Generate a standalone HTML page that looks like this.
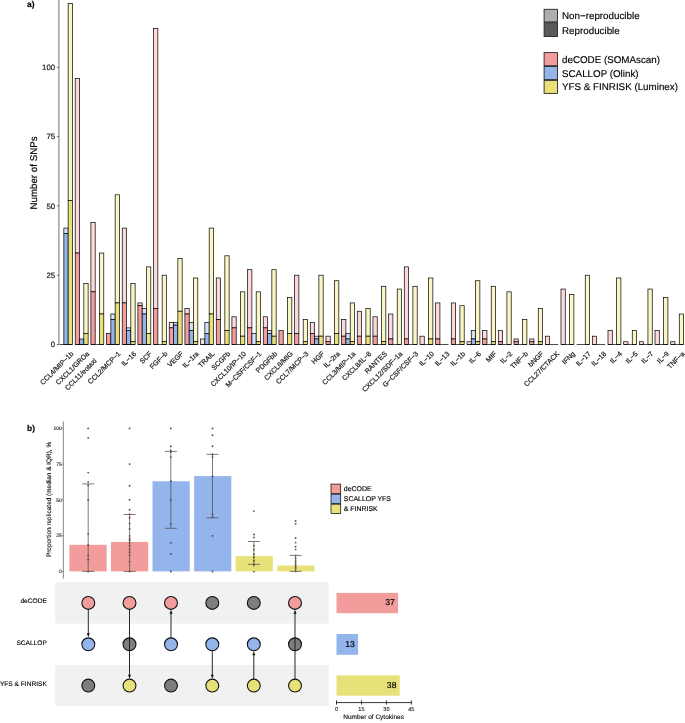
<!DOCTYPE html><html><head><meta charset="utf-8"><style>html,body{margin:0;padding:0;background:#fff;}svg{display:block;will-change:transform;}text{font-family:"Liberation Sans",sans-serif;text-rendering:geometricPrecision;}</style></head><body>
<svg width="685" height="723" viewBox="0 0 685 723">
<g stroke="#000" stroke-width="0.7">
<rect x="63.85" y="228.08" width="4.3" height="5.54" fill="#D5E2F9"/>
<rect x="63.85" y="233.62" width="4.3" height="110.88" fill="#94B4EC"/>
<rect x="68.15" y="3.54" width="4.3" height="196.81" fill="#F9F5C5"/>
<rect x="68.15" y="200.36" width="4.3" height="144.14" fill="#E8E17A"/>
<line x1="59.55" y1="344.5" x2="72.45" y2="344.5"/>
<rect x="75.22" y="78.39" width="4.3" height="174.64" fill="#FCD8D8"/>
<rect x="75.22" y="253.02" width="4.3" height="91.48" fill="#F29C9C"/>
<rect x="79.52" y="338.96" width="4.3" height="5.54" fill="#94B4EC"/>
<rect x="83.82" y="283.52" width="4.3" height="49.9" fill="#F9F5C5"/>
<rect x="83.82" y="333.41" width="4.3" height="11.09" fill="#E8E17A"/>
<line x1="75.22" y1="344.5" x2="88.12" y2="344.5"/>
<rect x="90.89" y="222.53" width="4.3" height="69.3" fill="#FCD8D8"/>
<rect x="90.89" y="291.83" width="4.3" height="52.67" fill="#F29C9C"/>
<rect x="99.49" y="253.02" width="4.3" height="60.98" fill="#F9F5C5"/>
<rect x="99.49" y="314.01" width="4.3" height="30.49" fill="#E8E17A"/>
<line x1="90.89" y1="344.5" x2="103.79" y2="344.5"/>
<rect x="106.56" y="333.41" width="4.3" height="11.09" fill="#F29C9C"/>
<rect x="110.86" y="314.01" width="4.3" height="5.54" fill="#D5E2F9"/>
<rect x="110.86" y="319.55" width="4.3" height="24.95" fill="#94B4EC"/>
<rect x="115.16" y="194.81" width="4.3" height="108.11" fill="#F9F5C5"/>
<rect x="115.16" y="302.92" width="4.3" height="41.58" fill="#E8E17A"/>
<line x1="106.56" y1="344.5" x2="119.46" y2="344.5"/>
<rect x="122.23" y="228.08" width="4.3" height="74.84" fill="#FCD8D8"/>
<rect x="122.23" y="302.92" width="4.3" height="41.58" fill="#F29C9C"/>
<rect x="126.53" y="327.87" width="4.3" height="2.77" fill="#D5E2F9"/>
<rect x="126.53" y="330.64" width="4.3" height="13.86" fill="#94B4EC"/>
<rect x="130.83" y="283.52" width="4.3" height="58.21" fill="#F9F5C5"/>
<rect x="130.83" y="341.73" width="4.3" height="2.77" fill="#E8E17A"/>
<line x1="122.23" y1="344.5" x2="135.13" y2="344.5"/>
<rect x="137.9" y="302.92" width="4.3" height="2.77" fill="#FCD8D8"/>
<rect x="137.9" y="305.69" width="4.3" height="38.81" fill="#F29C9C"/>
<rect x="142.2" y="308.46" width="4.3" height="5.54" fill="#D5E2F9"/>
<rect x="142.2" y="314.01" width="4.3" height="30.49" fill="#94B4EC"/>
<rect x="146.5" y="266.88" width="4.3" height="66.53" fill="#F9F5C5"/>
<rect x="146.5" y="333.41" width="4.3" height="11.09" fill="#E8E17A"/>
<line x1="137.9" y1="344.5" x2="150.8" y2="344.5"/>
<rect x="153.57" y="28.49" width="4.3" height="279.97" fill="#FCD8D8"/>
<rect x="153.57" y="308.46" width="4.3" height="36.04" fill="#F29C9C"/>
<rect x="162.17" y="275.2" width="4.3" height="66.53" fill="#F9F5C5"/>
<rect x="162.17" y="341.73" width="4.3" height="2.77" fill="#E8E17A"/>
<line x1="153.57" y1="344.5" x2="166.47" y2="344.5"/>
<rect x="169.24" y="322.32" width="4.3" height="5.54" fill="#FCD8D8"/>
<rect x="169.24" y="327.87" width="4.3" height="16.63" fill="#F29C9C"/>
<rect x="173.54" y="322.32" width="4.3" height="2.77" fill="#D5E2F9"/>
<rect x="173.54" y="325.1" width="4.3" height="19.4" fill="#94B4EC"/>
<rect x="177.84" y="258.57" width="4.3" height="52.67" fill="#F9F5C5"/>
<rect x="177.84" y="311.24" width="4.3" height="33.26" fill="#E8E17A"/>
<line x1="169.24" y1="344.5" x2="182.14" y2="344.5"/>
<rect x="184.91" y="308.46" width="4.3" height="5.54" fill="#FCD8D8"/>
<rect x="184.91" y="314.01" width="4.3" height="30.49" fill="#F29C9C"/>
<rect x="189.21" y="322.32" width="4.3" height="8.32" fill="#D5E2F9"/>
<rect x="189.21" y="330.64" width="4.3" height="13.86" fill="#94B4EC"/>
<rect x="193.51" y="277.97" width="4.3" height="63.76" fill="#F9F5C5"/>
<rect x="193.51" y="341.73" width="4.3" height="2.77" fill="#E8E17A"/>
<line x1="184.91" y1="344.5" x2="197.81" y2="344.5"/>
<rect x="200.58" y="338.96" width="4.3" height="5.54" fill="#FCD8D8"/>
<rect x="204.88" y="322.32" width="4.3" height="11.09" fill="#D5E2F9"/>
<rect x="204.88" y="333.41" width="4.3" height="11.09" fill="#94B4EC"/>
<rect x="209.18" y="228.08" width="4.3" height="85.93" fill="#F9F5C5"/>
<rect x="209.18" y="314.01" width="4.3" height="30.49" fill="#E8E17A"/>
<line x1="200.58" y1="344.5" x2="213.48" y2="344.5"/>
<rect x="216.25" y="277.97" width="4.3" height="41.58" fill="#FCD8D8"/>
<rect x="216.25" y="319.55" width="4.3" height="24.95" fill="#F29C9C"/>
<rect x="224.85" y="255.8" width="4.3" height="74.84" fill="#F9F5C5"/>
<rect x="224.85" y="330.64" width="4.3" height="13.86" fill="#E8E17A"/>
<line x1="216.25" y1="344.5" x2="229.15" y2="344.5"/>
<rect x="231.92" y="316.78" width="4.3" height="11.09" fill="#FCD8D8"/>
<rect x="231.92" y="327.87" width="4.3" height="16.63" fill="#F29C9C"/>
<rect x="240.52" y="291.83" width="4.3" height="44.35" fill="#F9F5C5"/>
<rect x="240.52" y="336.18" width="4.3" height="8.32" fill="#E8E17A"/>
<line x1="231.92" y1="344.5" x2="244.82" y2="344.5"/>
<rect x="247.59" y="269.66" width="4.3" height="58.21" fill="#FCD8D8"/>
<rect x="247.59" y="327.87" width="4.3" height="16.63" fill="#F29C9C"/>
<rect x="251.89" y="333.41" width="4.3" height="11.09" fill="#D5E2F9"/>
<rect x="256.19" y="291.83" width="4.3" height="49.9" fill="#F9F5C5"/>
<rect x="256.19" y="341.73" width="4.3" height="2.77" fill="#E8E17A"/>
<line x1="247.59" y1="344.5" x2="260.49" y2="344.5"/>
<rect x="263.26" y="316.78" width="4.3" height="11.09" fill="#FCD8D8"/>
<rect x="263.26" y="327.87" width="4.3" height="16.63" fill="#F29C9C"/>
<rect x="267.56" y="330.64" width="4.3" height="2.77" fill="#D5E2F9"/>
<rect x="267.56" y="333.41" width="4.3" height="11.09" fill="#94B4EC"/>
<rect x="271.86" y="269.66" width="4.3" height="66.53" fill="#F9F5C5"/>
<rect x="271.86" y="336.18" width="4.3" height="8.32" fill="#E8E17A"/>
<line x1="263.26" y1="344.5" x2="276.16" y2="344.5"/>
<rect x="278.93" y="330.64" width="4.3" height="13.86" fill="#F29C9C"/>
<rect x="287.53" y="297.38" width="4.3" height="36.04" fill="#F9F5C5"/>
<rect x="287.53" y="333.41" width="4.3" height="11.09" fill="#E8E17A"/>
<line x1="278.93" y1="344.5" x2="291.83" y2="344.5"/>
<rect x="294.6" y="275.2" width="4.3" height="58.21" fill="#FCD8D8"/>
<rect x="294.6" y="333.41" width="4.3" height="11.09" fill="#F29C9C"/>
<rect x="303.2" y="319.55" width="4.3" height="22.18" fill="#F9F5C5"/>
<rect x="303.2" y="341.73" width="4.3" height="2.77" fill="#E8E17A"/>
<line x1="294.6" y1="344.5" x2="307.5" y2="344.5"/>
<rect x="310.27" y="322.32" width="4.3" height="11.09" fill="#FCD8D8"/>
<rect x="310.27" y="333.41" width="4.3" height="11.09" fill="#F29C9C"/>
<rect x="314.57" y="336.18" width="4.3" height="2.77" fill="#D5E2F9"/>
<rect x="314.57" y="338.96" width="4.3" height="5.54" fill="#94B4EC"/>
<rect x="318.87" y="275.2" width="4.3" height="60.98" fill="#F9F5C5"/>
<rect x="318.87" y="336.18" width="4.3" height="8.32" fill="#E8E17A"/>
<line x1="310.27" y1="344.5" x2="323.17" y2="344.5"/>
<rect x="325.94" y="336.18" width="4.3" height="5.54" fill="#FCD8D8"/>
<rect x="325.94" y="341.73" width="4.3" height="2.77" fill="#F29C9C"/>
<rect x="334.54" y="280.74" width="4.3" height="52.67" fill="#F9F5C5"/>
<rect x="334.54" y="333.41" width="4.3" height="11.09" fill="#E8E17A"/>
<line x1="325.94" y1="344.5" x2="338.84" y2="344.5"/>
<rect x="341.61" y="319.55" width="4.3" height="16.63" fill="#FCD8D8"/>
<rect x="341.61" y="336.18" width="4.3" height="8.32" fill="#F29C9C"/>
<rect x="345.91" y="333.41" width="4.3" height="5.54" fill="#D5E2F9"/>
<rect x="345.91" y="338.96" width="4.3" height="5.54" fill="#94B4EC"/>
<rect x="350.21" y="302.92" width="4.3" height="38.81" fill="#F9F5C5"/>
<rect x="350.21" y="341.73" width="4.3" height="2.77" fill="#E8E17A"/>
<line x1="341.61" y1="344.5" x2="354.51" y2="344.5"/>
<rect x="357.28" y="311.24" width="4.3" height="24.95" fill="#FCD8D8"/>
<rect x="357.28" y="336.18" width="4.3" height="8.32" fill="#F29C9C"/>
<rect x="365.88" y="308.46" width="4.3" height="27.72" fill="#F9F5C5"/>
<rect x="365.88" y="336.18" width="4.3" height="8.32" fill="#E8E17A"/>
<line x1="357.28" y1="344.5" x2="370.18" y2="344.5"/>
<rect x="372.95" y="316.78" width="4.3" height="19.4" fill="#FCD8D8"/>
<rect x="372.95" y="336.18" width="4.3" height="8.32" fill="#F29C9C"/>
<rect x="381.55" y="286.29" width="4.3" height="55.44" fill="#F9F5C5"/>
<rect x="381.55" y="341.73" width="4.3" height="2.77" fill="#E8E17A"/>
<line x1="372.95" y1="344.5" x2="385.85" y2="344.5"/>
<rect x="388.62" y="314.01" width="4.3" height="24.95" fill="#FCD8D8"/>
<rect x="388.62" y="338.96" width="4.3" height="5.54" fill="#F29C9C"/>
<rect x="397.22" y="289.06" width="4.3" height="55.44" fill="#F9F5C5"/>
<line x1="388.62" y1="344.5" x2="401.52" y2="344.5"/>
<rect x="404.29" y="266.88" width="4.3" height="72.07" fill="#FCD8D8"/>
<rect x="404.29" y="338.96" width="4.3" height="5.54" fill="#F29C9C"/>
<rect x="412.89" y="286.29" width="4.3" height="58.21" fill="#F9F5C5"/>
<line x1="404.29" y1="344.5" x2="417.19" y2="344.5"/>
<rect x="419.96" y="336.18" width="4.3" height="8.32" fill="#FCD8D8"/>
<rect x="428.56" y="277.97" width="4.3" height="60.98" fill="#F9F5C5"/>
<rect x="428.56" y="338.96" width="4.3" height="5.54" fill="#E8E17A"/>
<line x1="419.96" y1="344.5" x2="432.86" y2="344.5"/>
<rect x="435.63" y="302.92" width="4.3" height="36.04" fill="#FCD8D8"/>
<rect x="435.63" y="338.96" width="4.3" height="5.54" fill="#F29C9C"/>
<line x1="435.63" y1="344.5" x2="448.53" y2="344.5"/>
<rect x="451.3" y="302.92" width="4.3" height="36.04" fill="#FCD8D8"/>
<rect x="451.3" y="338.96" width="4.3" height="5.54" fill="#F29C9C"/>
<rect x="459.9" y="305.69" width="4.3" height="36.04" fill="#F9F5C5"/>
<rect x="459.9" y="341.73" width="4.3" height="2.77" fill="#E8E17A"/>
<line x1="451.3" y1="344.5" x2="464.2" y2="344.5"/>
<rect x="466.97" y="341.73" width="4.3" height="2.77" fill="#FCD8D8"/>
<rect x="471.27" y="330.64" width="4.3" height="8.32" fill="#D5E2F9"/>
<rect x="471.27" y="338.96" width="4.3" height="5.54" fill="#94B4EC"/>
<rect x="475.57" y="280.74" width="4.3" height="60.98" fill="#F9F5C5"/>
<rect x="475.57" y="341.73" width="4.3" height="2.77" fill="#E8E17A"/>
<line x1="466.97" y1="344.5" x2="479.87" y2="344.5"/>
<rect x="482.64" y="330.64" width="4.3" height="8.32" fill="#FCD8D8"/>
<rect x="482.64" y="338.96" width="4.3" height="5.54" fill="#F29C9C"/>
<rect x="491.24" y="286.29" width="4.3" height="55.44" fill="#F9F5C5"/>
<rect x="491.24" y="341.73" width="4.3" height="2.77" fill="#E8E17A"/>
<line x1="482.64" y1="344.5" x2="495.54" y2="344.5"/>
<rect x="498.31" y="330.64" width="4.3" height="11.09" fill="#FCD8D8"/>
<rect x="498.31" y="341.73" width="4.3" height="2.77" fill="#F29C9C"/>
<rect x="506.91" y="291.83" width="4.3" height="52.67" fill="#F9F5C5"/>
<line x1="498.31" y1="344.5" x2="511.21" y2="344.5"/>
<rect x="513.98" y="338.96" width="4.3" height="2.77" fill="#FCD8D8"/>
<rect x="513.98" y="341.73" width="4.3" height="2.77" fill="#F29C9C"/>
<rect x="522.58" y="319.55" width="4.3" height="24.95" fill="#F9F5C5"/>
<line x1="513.98" y1="344.5" x2="526.88" y2="344.5"/>
<rect x="529.65" y="338.96" width="4.3" height="2.77" fill="#FCD8D8"/>
<rect x="529.65" y="341.73" width="4.3" height="2.77" fill="#F29C9C"/>
<rect x="538.25" y="308.46" width="4.3" height="33.26" fill="#F9F5C5"/>
<rect x="538.25" y="341.73" width="4.3" height="2.77" fill="#E8E17A"/>
<line x1="529.65" y1="344.5" x2="542.55" y2="344.5"/>
<rect x="545.32" y="336.18" width="4.3" height="8.32" fill="#FCD8D8"/>
<line x1="545.32" y1="344.5" x2="558.22" y2="344.5"/>
<rect x="560.99" y="289.06" width="4.3" height="55.44" fill="#FCD8D8"/>
<rect x="569.59" y="294.6" width="4.3" height="49.9" fill="#F9F5C5"/>
<line x1="560.99" y1="344.5" x2="573.89" y2="344.5"/>
<rect x="585.26" y="275.2" width="4.3" height="69.3" fill="#F9F5C5"/>
<line x1="576.66" y1="344.5" x2="589.56" y2="344.5"/>
<rect x="592.33" y="336.18" width="4.3" height="8.32" fill="#FCD8D8"/>
<line x1="592.33" y1="344.5" x2="605.23" y2="344.5"/>
<rect x="608" y="330.64" width="4.3" height="13.86" fill="#FCD8D8"/>
<rect x="616.6" y="277.97" width="4.3" height="66.53" fill="#F9F5C5"/>
<line x1="608" y1="344.5" x2="620.9" y2="344.5"/>
<rect x="623.67" y="341.73" width="4.3" height="2.77" fill="#FCD8D8"/>
<rect x="632.27" y="330.64" width="4.3" height="13.86" fill="#F9F5C5"/>
<line x1="623.67" y1="344.5" x2="636.57" y2="344.5"/>
<rect x="639.34" y="341.73" width="4.3" height="2.77" fill="#FCD8D8"/>
<rect x="647.94" y="289.06" width="4.3" height="55.44" fill="#F9F5C5"/>
<line x1="639.34" y1="344.5" x2="652.24" y2="344.5"/>
<rect x="655.01" y="330.64" width="4.3" height="13.86" fill="#FCD8D8"/>
<rect x="663.61" y="297.38" width="4.3" height="47.12" fill="#F9F5C5"/>
<line x1="655.01" y1="344.5" x2="667.91" y2="344.5"/>
<rect x="670.68" y="341.73" width="4.3" height="2.77" fill="#FCD8D8"/>
<rect x="679.28" y="314.01" width="4.3" height="30.49" fill="#F9F5C5"/>
<line x1="670.68" y1="344.5" x2="683.58" y2="344.5"/>
</g>
<line x1="58.9" y1="0" x2="58.9" y2="345" stroke="#999" stroke-width="1.4"/>
<line x1="56.9" y1="344.5" x2="58.9" y2="344.5" stroke="#333" stroke-width="0.7"/>
<text x="55.1" y="347.3" font-size="7.8" text-anchor="end" fill="#222" stroke="#222" stroke-width="0.2">0</text>
<line x1="56.9" y1="275.2" x2="58.9" y2="275.2" stroke="#333" stroke-width="0.7"/>
<text x="55.1" y="278" font-size="7.8" text-anchor="end" fill="#222" stroke="#222" stroke-width="0.2">25</text>
<line x1="56.9" y1="205.9" x2="58.9" y2="205.9" stroke="#333" stroke-width="0.7"/>
<text x="55.1" y="208.7" font-size="7.8" text-anchor="end" fill="#222" stroke="#222" stroke-width="0.2">50</text>
<line x1="56.9" y1="136.6" x2="58.9" y2="136.6" stroke="#333" stroke-width="0.7"/>
<text x="55.1" y="139.4" font-size="7.8" text-anchor="end" fill="#222" stroke="#222" stroke-width="0.2">75</text>
<line x1="56.9" y1="67.3" x2="58.9" y2="67.3" stroke="#333" stroke-width="0.7"/>
<text x="55.1" y="70.1" font-size="7.8" text-anchor="end" fill="#222" stroke="#222" stroke-width="0.2">100</text>
<text transform="translate(36.6,173) rotate(-90)" font-size="9.75" text-anchor="middle" fill="#000" stroke="#000" stroke-width="0.2">Number of SNPs</text>
<text x="27" y="6.5" font-size="8.4" font-weight="bold" stroke="#000" stroke-width="0.2">a)</text>
<text transform="translate(74,354.2) rotate(-45)" font-size="6.95" text-anchor="end" fill="#222" stroke="#222" stroke-width="0.22">CCL4/MIP−1b</text>
<text transform="translate(89.67,354.2) rotate(-45)" font-size="6.95" text-anchor="end" fill="#222" stroke="#222" stroke-width="0.22">CXCL1/GROa</text>
<text transform="translate(97.14,361.3) rotate(-45)" font-size="6.95" text-anchor="end" fill="#222" stroke="#222" stroke-width="0.22">CCL11/eotaxi</text>
<text transform="translate(121.01,354.2) rotate(-45)" font-size="6.95" text-anchor="end" fill="#222" stroke="#222" stroke-width="0.22">CCL2/MCP−1</text>
<text transform="translate(136.68,354.2) rotate(-45)" font-size="6.95" text-anchor="end" fill="#222" stroke="#222" stroke-width="0.22">IL−16</text>
<text transform="translate(152.35,354.2) rotate(-45)" font-size="6.95" text-anchor="end" fill="#222" stroke="#222" stroke-width="0.22">SCF</text>
<text transform="translate(168.02,354.2) rotate(-45)" font-size="6.95" text-anchor="end" fill="#222" stroke="#222" stroke-width="0.22">FGF−b</text>
<text transform="translate(183.69,354.2) rotate(-45)" font-size="6.95" text-anchor="end" fill="#222" stroke="#222" stroke-width="0.22">VEGF</text>
<text transform="translate(199.36,354.2) rotate(-45)" font-size="6.95" text-anchor="end" fill="#222" stroke="#222" stroke-width="0.22">IL−1ra</text>
<text transform="translate(215.03,354.2) rotate(-45)" font-size="6.95" text-anchor="end" fill="#222" stroke="#222" stroke-width="0.22">TRAIL</text>
<text transform="translate(230.7,354.2) rotate(-45)" font-size="6.95" text-anchor="end" fill="#222" stroke="#222" stroke-width="0.22">SCGFb</text>
<text transform="translate(246.37,354.2) rotate(-45)" font-size="6.95" text-anchor="end" fill="#222" stroke="#222" stroke-width="0.22">CXCL10/IP−10</text>
<text transform="translate(262.04,354.2) rotate(-45)" font-size="6.95" text-anchor="end" fill="#222" stroke="#222" stroke-width="0.22">M−CSF/CSF−1</text>
<text transform="translate(277.71,354.2) rotate(-45)" font-size="6.95" text-anchor="end" fill="#222" stroke="#222" stroke-width="0.22">PDGFbb</text>
<text transform="translate(293.38,354.2) rotate(-45)" font-size="6.95" text-anchor="end" fill="#222" stroke="#222" stroke-width="0.22">CXCL9/MIG</text>
<text transform="translate(309.05,354.2) rotate(-45)" font-size="6.95" text-anchor="end" fill="#222" stroke="#222" stroke-width="0.22">CCL7/MCP−3</text>
<text transform="translate(324.72,354.2) rotate(-45)" font-size="6.95" text-anchor="end" fill="#222" stroke="#222" stroke-width="0.22">HGF</text>
<text transform="translate(340.39,354.2) rotate(-45)" font-size="6.95" text-anchor="end" fill="#222" stroke="#222" stroke-width="0.22">IL−2ra</text>
<text transform="translate(356.06,354.2) rotate(-45)" font-size="6.95" text-anchor="end" fill="#222" stroke="#222" stroke-width="0.22">CCL3/MIP−1a</text>
<text transform="translate(371.73,354.2) rotate(-45)" font-size="6.95" text-anchor="end" fill="#222" stroke="#222" stroke-width="0.22">CXCL8/IL−8</text>
<text transform="translate(387.4,354.2) rotate(-45)" font-size="6.95" text-anchor="end" fill="#222" stroke="#222" stroke-width="0.22">RANTES</text>
<text transform="translate(403.07,354.2) rotate(-45)" font-size="6.95" text-anchor="end" fill="#222" stroke="#222" stroke-width="0.22">CXCL12/SDF−1a</text>
<text transform="translate(418.74,354.2) rotate(-45)" font-size="6.95" text-anchor="end" fill="#222" stroke="#222" stroke-width="0.22">G−CSF/CSF−3</text>
<text transform="translate(434.41,354.2) rotate(-45)" font-size="6.95" text-anchor="end" fill="#222" stroke="#222" stroke-width="0.22">IL−10</text>
<text transform="translate(450.08,354.2) rotate(-45)" font-size="6.95" text-anchor="end" fill="#222" stroke="#222" stroke-width="0.22">IL−13</text>
<text transform="translate(465.75,354.2) rotate(-45)" font-size="6.95" text-anchor="end" fill="#222" stroke="#222" stroke-width="0.22">IL−1b</text>
<text transform="translate(481.42,354.2) rotate(-45)" font-size="6.95" text-anchor="end" fill="#222" stroke="#222" stroke-width="0.22">IL−6</text>
<text transform="translate(497.09,354.2) rotate(-45)" font-size="6.95" text-anchor="end" fill="#222" stroke="#222" stroke-width="0.22">MIF</text>
<text transform="translate(512.76,354.2) rotate(-45)" font-size="6.95" text-anchor="end" fill="#222" stroke="#222" stroke-width="0.22">IL−2</text>
<text transform="translate(528.43,354.2) rotate(-45)" font-size="6.95" text-anchor="end" fill="#222" stroke="#222" stroke-width="0.22">TNF−b</text>
<text transform="translate(544.1,354.2) rotate(-45)" font-size="6.95" text-anchor="end" fill="#222" stroke="#222" stroke-width="0.22">bNGF</text>
<text transform="translate(559.77,354.2) rotate(-45)" font-size="6.95" text-anchor="end" fill="#222" stroke="#222" stroke-width="0.22">CCL27/CTACK</text>
<text transform="translate(575.44,354.2) rotate(-45)" font-size="6.95" text-anchor="end" fill="#222" stroke="#222" stroke-width="0.22">IFNg</text>
<text transform="translate(591.11,354.2) rotate(-45)" font-size="6.95" text-anchor="end" fill="#222" stroke="#222" stroke-width="0.22">IL−17</text>
<text transform="translate(606.78,354.2) rotate(-45)" font-size="6.95" text-anchor="end" fill="#222" stroke="#222" stroke-width="0.22">IL−18</text>
<text transform="translate(622.45,354.2) rotate(-45)" font-size="6.95" text-anchor="end" fill="#222" stroke="#222" stroke-width="0.22">IL−4</text>
<text transform="translate(638.12,354.2) rotate(-45)" font-size="6.95" text-anchor="end" fill="#222" stroke="#222" stroke-width="0.22">IL−5</text>
<text transform="translate(653.79,354.2) rotate(-45)" font-size="6.95" text-anchor="end" fill="#222" stroke="#222" stroke-width="0.22">IL−7</text>
<text transform="translate(669.46,354.2) rotate(-45)" font-size="6.95" text-anchor="end" fill="#222" stroke="#222" stroke-width="0.22">IL−9</text>
<text transform="translate(685.13,354.2) rotate(-45)" font-size="6.95" text-anchor="end" fill="#222" stroke="#222" stroke-width="0.22">TNF−a</text>
<rect x="544.1" y="9.3" width="13.4" height="12.6" fill="#AEAEAE" stroke="#262626" stroke-width="0.9"/>
<rect x="544.1" y="22.7" width="13.4" height="13.8" fill="#5A5A5A" stroke="#262626" stroke-width="0.9"/>
<rect x="544.1" y="52.6" width="13.4" height="13.1" fill="#F29C9C" stroke="#262626" stroke-width="0.9"/>
<rect x="544.1" y="66.5" width="13.4" height="13.1" fill="#94B4EC" stroke="#262626" stroke-width="0.9"/>
<rect x="544.1" y="80.4" width="13.4" height="13" fill="#E8E17A" stroke="#262626" stroke-width="0.9"/>
<text x="562" y="19.4" font-size="9.8" fill="#000" stroke="#000" stroke-width="0.15">Non−reproducible</text>
<text x="562" y="33.6" font-size="9.8" fill="#000" stroke="#000" stroke-width="0.15">Reproducible</text>
<text x="562" y="62.8" font-size="9.8" fill="#000" stroke="#000" stroke-width="0.15">deCODE (SOMAscan)</text>
<text x="562" y="76.6" font-size="9.8" fill="#000" stroke="#000" stroke-width="0.15">SCALLOP (Olink)</text>
<text x="562" y="90.3" font-size="9.8" fill="#000" stroke="#000" stroke-width="0.15">YFS &amp; FINRISK (Luminex)</text>
<text x="27.1" y="430.6" font-size="8.4" font-weight="bold" stroke="#000" stroke-width="0.2">b)</text>
<rect x="69.4" y="544.78" width="37.2" height="26.62" fill="#F29C9C"/>
<rect x="110.97" y="541.92" width="37.2" height="29.48" fill="#F29C9C"/>
<rect x="152.54" y="481.25" width="37.2" height="90.15" fill="#94B4EC"/>
<rect x="194.11" y="476.1" width="37.2" height="95.3" fill="#94B4EC"/>
<rect x="235.68" y="556.09" width="37.2" height="15.31" fill="#E8E17A"/>
<rect x="277.25" y="565.53" width="37.2" height="5.87" fill="#E8E17A"/>
<line x1="63.4" y1="421.6" x2="63.4" y2="578.5" stroke="#999" stroke-width="1.2"/>
<line x1="61.9" y1="571.4" x2="63.4" y2="571.4" stroke="#555" stroke-width="0.5"/>
<text x="61.8" y="573.2" font-size="5.0" text-anchor="end" fill="#222" stroke="#222" stroke-width="0.12">0</text>
<line x1="61.9" y1="535.62" x2="63.4" y2="535.62" stroke="#555" stroke-width="0.5"/>
<text x="61.8" y="537.42" font-size="5.0" text-anchor="end" fill="#222" stroke="#222" stroke-width="0.12">25</text>
<line x1="61.9" y1="499.85" x2="63.4" y2="499.85" stroke="#555" stroke-width="0.5"/>
<text x="61.8" y="501.65" font-size="5.0" text-anchor="end" fill="#222" stroke="#222" stroke-width="0.12">50</text>
<line x1="61.9" y1="464.07" x2="63.4" y2="464.07" stroke="#555" stroke-width="0.5"/>
<text x="61.8" y="465.88" font-size="5.0" text-anchor="end" fill="#222" stroke="#222" stroke-width="0.12">75</text>
<line x1="61.9" y1="428.3" x2="63.4" y2="428.3" stroke="#555" stroke-width="0.5"/>
<text x="61.8" y="430.1" font-size="5.0" text-anchor="end" fill="#222" stroke="#222" stroke-width="0.12">100</text>
<text transform="translate(50.8,499.5) rotate(-90)" font-size="6.45" text-anchor="middle" fill="#000" stroke="#000" stroke-width="0.12">Proportion replicated (median &amp; IQR), %</text>
<g stroke="#505050" stroke-width="0.75">
<line x1="88.2" y1="483.9" x2="88.2" y2="571.4"/>
<line x1="82.2" y1="483.9" x2="94.2" y2="483.9"/>
<line x1="82.2" y1="571.4" x2="94.2" y2="571.4"/>
<line x1="129.6" y1="514.5" x2="129.6" y2="571.4"/>
<line x1="123.6" y1="514.5" x2="135.6" y2="514.5"/>
<line x1="123.6" y1="571.4" x2="135.6" y2="571.4"/>
<line x1="170.8" y1="451.4" x2="170.8" y2="528.3"/>
<line x1="164.8" y1="451.4" x2="176.8" y2="451.4"/>
<line x1="164.8" y1="528.3" x2="176.8" y2="528.3"/>
<line x1="212.5" y1="454.3" x2="212.5" y2="517.8"/>
<line x1="206.5" y1="454.3" x2="218.5" y2="454.3"/>
<line x1="206.5" y1="517.8" x2="218.5" y2="517.8"/>
<line x1="253.9" y1="541.5" x2="253.9" y2="564.3"/>
<line x1="247.9" y1="541.5" x2="259.9" y2="541.5"/>
<line x1="247.9" y1="564.3" x2="259.9" y2="564.3"/>
<line x1="295.6" y1="555.4" x2="295.6" y2="571.4"/>
<line x1="289.6" y1="555.4" x2="301.6" y2="555.4"/>
<line x1="289.6" y1="571.4" x2="301.6" y2="571.4"/>
</g>
<circle cx="88.2" cy="428.4" r="0.95" fill="#7a4545"/>
<circle cx="88.2" cy="437.9" r="0.95" fill="#7a4545"/>
<circle cx="88.2" cy="472.6" r="0.95" fill="#7a4545"/>
<circle cx="88.2" cy="481.9" r="0.95" fill="#7a4545"/>
<circle cx="88.2" cy="485.4" r="0.95" fill="#7a4545"/>
<circle cx="88.2" cy="499.7" r="0.95" fill="#7a4545"/>
<circle cx="88.2" cy="534.1" r="0.95" fill="#7a4545"/>
<circle cx="88.2" cy="545" r="0.95" fill="#7a4545"/>
<circle cx="88.2" cy="555.7" r="0.95" fill="#7a4545"/>
<circle cx="88.2" cy="559.8" r="0.95" fill="#7a4545"/>
<circle cx="88.2" cy="571.5" r="0.95" fill="#7a4545"/>
<circle cx="129.6" cy="428.4" r="0.95" fill="#7a4545"/>
<circle cx="129.6" cy="464.1" r="0.95" fill="#7a4545"/>
<circle cx="129.6" cy="485.8" r="0.95" fill="#7a4545"/>
<circle cx="129.6" cy="499.7" r="0.95" fill="#7a4545"/>
<circle cx="129.6" cy="509.8" r="0.95" fill="#7a4545"/>
<circle cx="129.6" cy="514.3" r="0.95" fill="#7a4545"/>
<circle cx="129.6" cy="517.8" r="0.95" fill="#7a4545"/>
<circle cx="129.6" cy="523.6" r="0.95" fill="#7a4545"/>
<circle cx="129.6" cy="528.9" r="0.95" fill="#7a4545"/>
<circle cx="129.6" cy="535.9" r="0.95" fill="#7a4545"/>
<circle cx="129.6" cy="538.8" r="0.95" fill="#7a4545"/>
<circle cx="129.6" cy="540.5" r="0.95" fill="#7a4545"/>
<circle cx="129.6" cy="542.9" r="0.95" fill="#7a4545"/>
<circle cx="129.6" cy="545.8" r="0.95" fill="#7a4545"/>
<circle cx="129.6" cy="549.3" r="0.95" fill="#7a4545"/>
<circle cx="129.6" cy="552.2" r="0.95" fill="#7a4545"/>
<circle cx="129.6" cy="555.1" r="0.95" fill="#7a4545"/>
<circle cx="129.6" cy="561.6" r="0.95" fill="#7a4545"/>
<circle cx="129.6" cy="571.5" r="0.95" fill="#7a4545"/>
<circle cx="170.8" cy="428.4" r="0.95" fill="#40506e"/>
<circle cx="170.8" cy="446.3" r="0.95" fill="#40506e"/>
<circle cx="170.8" cy="450.4" r="0.95" fill="#40506e"/>
<circle cx="170.8" cy="452.1" r="0.95" fill="#40506e"/>
<circle cx="170.8" cy="457.1" r="0.95" fill="#40506e"/>
<circle cx="170.8" cy="481.3" r="0.95" fill="#40506e"/>
<circle cx="170.8" cy="499.7" r="0.95" fill="#40506e"/>
<circle cx="170.8" cy="524" r="0.95" fill="#40506e"/>
<circle cx="170.8" cy="542.9" r="0.95" fill="#40506e"/>
<circle cx="170.8" cy="554" r="0.95" fill="#40506e"/>
<circle cx="170.8" cy="571.5" r="0.95" fill="#40506e"/>
<circle cx="212.5" cy="428.4" r="0.95" fill="#40506e"/>
<circle cx="212.5" cy="435.2" r="0.95" fill="#40506e"/>
<circle cx="212.5" cy="446.3" r="0.95" fill="#40506e"/>
<circle cx="212.5" cy="454.5" r="0.95" fill="#40506e"/>
<circle cx="212.5" cy="457.1" r="0.95" fill="#40506e"/>
<circle cx="212.5" cy="476.3" r="0.95" fill="#40506e"/>
<circle cx="212.5" cy="514.3" r="0.95" fill="#40506e"/>
<circle cx="212.5" cy="517.2" r="0.95" fill="#40506e"/>
<circle cx="212.5" cy="535.9" r="0.95" fill="#40506e"/>
<circle cx="212.5" cy="571.5" r="0.95" fill="#40506e"/>
<circle cx="253.9" cy="511.1" r="0.95" fill="#5e5e30"/>
<circle cx="253.9" cy="534.5" r="0.95" fill="#5e5e30"/>
<circle cx="253.9" cy="537.4" r="0.95" fill="#5e5e30"/>
<circle cx="253.9" cy="545.6" r="0.95" fill="#5e5e30"/>
<circle cx="253.9" cy="549.6" r="0.95" fill="#5e5e30"/>
<circle cx="253.9" cy="554.3" r="0.95" fill="#5e5e30"/>
<circle cx="253.9" cy="557.2" r="0.95" fill="#5e5e30"/>
<circle cx="253.9" cy="560.7" r="0.95" fill="#5e5e30"/>
<circle cx="253.9" cy="564.3" r="0.95" fill="#5e5e30"/>
<circle cx="253.9" cy="565.4" r="0.95" fill="#5e5e30"/>
<circle cx="253.9" cy="571.6" r="0.95" fill="#5e5e30"/>
<circle cx="295.6" cy="521" r="0.95" fill="#5e5e30"/>
<circle cx="295.6" cy="523.9" r="0.95" fill="#5e5e30"/>
<circle cx="295.6" cy="538" r="0.95" fill="#5e5e30"/>
<circle cx="295.6" cy="542.6" r="0.95" fill="#5e5e30"/>
<circle cx="295.6" cy="546.7" r="0.95" fill="#5e5e30"/>
<circle cx="295.6" cy="549.6" r="0.95" fill="#5e5e30"/>
<circle cx="295.6" cy="555.8" r="0.95" fill="#5e5e30"/>
<circle cx="295.6" cy="558.4" r="0.95" fill="#5e5e30"/>
<circle cx="295.6" cy="561.3" r="0.95" fill="#5e5e30"/>
<circle cx="295.6" cy="563.7" r="0.95" fill="#5e5e30"/>
<circle cx="295.6" cy="565.4" r="0.95" fill="#5e5e30"/>
<circle cx="295.6" cy="567.2" r="0.95" fill="#5e5e30"/>
<circle cx="295.6" cy="568.9" r="0.95" fill="#5e5e30"/>
<circle cx="295.6" cy="571.4" r="0.95" fill="#5e5e30"/>
<rect x="331" y="484.1" width="9.7" height="9.4" fill="#F29C9C" stroke="#111" stroke-width="0.75"/>
<rect x="331" y="494.2" width="9.7" height="9.3" fill="#94B4EC" stroke="#111" stroke-width="0.75"/>
<rect x="331" y="504.2" width="9.7" height="9.4" fill="#E8E17A" stroke="#111" stroke-width="0.75"/>
<text x="343.8" y="491.1" font-size="6.95" fill="#000" stroke="#000" stroke-width="0.15">deCODE</text>
<text x="343.8" y="501.3" font-size="6.95" fill="#000" stroke="#000" stroke-width="0.15">SCALLOP YFS</text>
<text x="343.8" y="511.2" font-size="6.95" fill="#000" stroke="#000" stroke-width="0.15">&amp; FINRISK</text>
<rect x="55.2" y="582.4" width="273.5" height="41.2" fill="#F1F1F1"/>
<rect x="55.2" y="664.9" width="273.5" height="40.9" fill="#F1F1F1"/>
<g stroke="#111" stroke-width="0.9" fill="#111">
<line x1="88.3" y1="602.9" x2="88.3" y2="634.35"/>
<path d="M88.3 637.35 L86.8 633.35 L89.8 633.35 Z" stroke="none"/>
<line x1="129.5" y1="602.9" x2="129.5" y2="675.65"/>
<path d="M129.5 678.65 L128 674.65 L131 674.65 Z" stroke="none"/>
<line x1="171" y1="644.3" x2="171" y2="612.85"/>
<path d="M171 609.85 L169.5 613.85 L172.5 613.85 Z" stroke="none"/>
<line x1="212.3" y1="644.3" x2="212.3" y2="675.65"/>
<path d="M212.3 678.65 L210.8 674.65 L213.8 674.65 Z" stroke="none"/>
<line x1="253.8" y1="685.6" x2="253.8" y2="654.25"/>
<path d="M253.8 651.25 L252.3 655.25 L255.3 655.25 Z" stroke="none"/>
<line x1="295" y1="685.6" x2="295" y2="612.85"/>
<path d="M295 609.85 L293.5 613.85 L296.5 613.85 Z" stroke="none"/>
</g>
<circle cx="88.3" cy="602.9" r="6.45" fill="#F29C9C" stroke="#111" stroke-width="1.1"/>
<circle cx="88.3" cy="644.3" r="6.45" fill="#94B4EC" stroke="#111" stroke-width="1.1"/>
<circle cx="88.3" cy="685.6" r="6.45" fill="#7E7E7E" stroke="#111" stroke-width="1.1"/>
<circle cx="129.5" cy="602.9" r="6.45" fill="#F29C9C" stroke="#111" stroke-width="1.1"/>
<circle cx="129.5" cy="644.3" r="6.45" fill="#7E7E7E" stroke="#111" stroke-width="1.1"/>
<circle cx="129.5" cy="685.6" r="6.45" fill="#E8E17A" stroke="#111" stroke-width="1.1"/>
<circle cx="171" cy="602.9" r="6.45" fill="#F29C9C" stroke="#111" stroke-width="1.1"/>
<circle cx="171" cy="644.3" r="6.45" fill="#94B4EC" stroke="#111" stroke-width="1.1"/>
<circle cx="171" cy="685.6" r="6.45" fill="#7E7E7E" stroke="#111" stroke-width="1.1"/>
<circle cx="212.3" cy="602.9" r="6.45" fill="#7E7E7E" stroke="#111" stroke-width="1.1"/>
<circle cx="212.3" cy="644.3" r="6.45" fill="#94B4EC" stroke="#111" stroke-width="1.1"/>
<circle cx="212.3" cy="685.6" r="6.45" fill="#E8E17A" stroke="#111" stroke-width="1.1"/>
<circle cx="253.8" cy="602.9" r="6.45" fill="#7E7E7E" stroke="#111" stroke-width="1.1"/>
<circle cx="253.8" cy="644.3" r="6.45" fill="#94B4EC" stroke="#111" stroke-width="1.1"/>
<circle cx="253.8" cy="685.6" r="6.45" fill="#E8E17A" stroke="#111" stroke-width="1.1"/>
<circle cx="295" cy="602.9" r="6.45" fill="#F29C9C" stroke="#111" stroke-width="1.1"/>
<circle cx="295" cy="644.3" r="6.45" fill="#7E7E7E" stroke="#111" stroke-width="1.1"/>
<circle cx="295" cy="685.6" r="6.45" fill="#E8E17A" stroke="#111" stroke-width="1.1"/>
<g stroke="#111" stroke-width="0.9">
<line x1="129.5" y1="637.85" x2="129.5" y2="650.75"/>
<line x1="295" y1="637.85" x2="295" y2="650.75"/>
</g>
<text x="46.8" y="603" font-size="6.6" text-anchor="end" fill="#000" stroke="#000" stroke-width="0.12">deCODE</text>
<text x="46.8" y="644.8" font-size="6.6" text-anchor="end" fill="#000" stroke="#000" stroke-width="0.12">SCALLOP</text>
<text x="46.8" y="685.5" font-size="6.6" text-anchor="end" fill="#000" stroke="#000" stroke-width="0.12">YFS &amp; FINRISK</text>
<rect x="336.5" y="592.9" width="61.57" height="20.3" fill="#F29C9C"/>
<text x="394.77" y="605.45" font-size="8.6" text-anchor="end" fill="#000" stroke="#000" stroke-width="0.15">37</text>
<rect x="336.5" y="634" width="21.63" height="20.8" fill="#94B4EC"/>
<text x="354.83" y="646.8" font-size="8.6" text-anchor="end" fill="#000" stroke="#000" stroke-width="0.15">13</text>
<rect x="336.5" y="675.3" width="63.23" height="20.4" fill="#E8E17A"/>
<text x="396.43" y="687.9" font-size="8.6" text-anchor="end" fill="#000" stroke="#000" stroke-width="0.15">38</text>
<line x1="336.5" y1="702.6" x2="411.38" y2="702.6" stroke="#000" stroke-width="0.8"/>
<line x1="336.5" y1="700.4" x2="336.5" y2="704.6" stroke="#000" stroke-width="0.8"/>
<text x="336.5" y="711" font-size="5.6" text-anchor="middle" fill="#222" stroke="#222" stroke-width="0.1">0</text>
<line x1="361.46" y1="700.4" x2="361.46" y2="704.6" stroke="#000" stroke-width="0.8"/>
<text x="361.46" y="711" font-size="5.6" text-anchor="middle" fill="#222" stroke="#222" stroke-width="0.1">15</text>
<line x1="386.42" y1="700.4" x2="386.42" y2="704.6" stroke="#000" stroke-width="0.8"/>
<text x="386.42" y="711" font-size="5.6" text-anchor="middle" fill="#222" stroke="#222" stroke-width="0.1">30</text>
<line x1="411.38" y1="700.4" x2="411.38" y2="704.6" stroke="#000" stroke-width="0.8"/>
<text x="411.38" y="711" font-size="5.6" text-anchor="middle" fill="#222" stroke="#222" stroke-width="0.1">45</text>
<text x="373.6" y="718.8" font-size="6.5" text-anchor="middle" fill="#000" stroke="#000" stroke-width="0.1">Number of Cytokines</text>
</svg></body></html>
